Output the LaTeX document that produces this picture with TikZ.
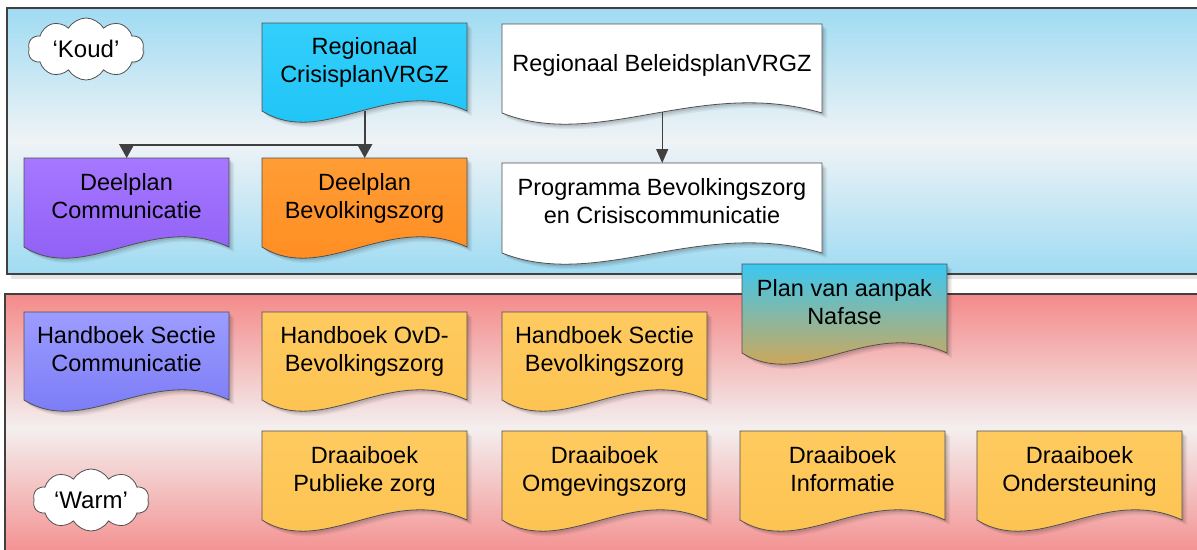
\documentclass[tikz,border=0pt]{standalone}
\usepackage{fontspec}
\setmainfont{Liberation Sans}
\usetikzlibrary{arrows.meta,calc,shapes.symbols}
\definecolor{edge}{HTML}{505050}
\definecolor{arrowc}{HTML}{404040}
\definecolor{skyA}{HTML}{9FDBF2}
\definecolor{skyM}{HTML}{EFF3F6}
\definecolor{roseA}{HTML}{F48A8A}
\definecolor{roseM}{HTML}{F4EFEF}
\definecolor{cyanT}{HTML}{33CFFC}
\definecolor{cyanB}{HTML}{1BC2F5}
\definecolor{purT}{HTML}{A677FF}
\definecolor{purB}{HTML}{8B5BF3}
\definecolor{oraT}{HTML}{FF9D35}
\definecolor{oraB}{HTML}{FF8A1E}
\definecolor{vioT}{HTML}{9C9CFF}
\definecolor{vioB}{HTML}{7474F4}
\definecolor{yelT}{HTML}{FECA5F}
\definecolor{yelB}{HTML}{FDC24F}
\definecolor{planT}{HTML}{3AC8F2}
\definecolor{planB}{HTML}{F59E32}
\tikzset{
  body/.style={draw=none, inner sep=0pt, rectangle, anchor=north west},
  docline/.style={draw=edge, line width=0.8pt},
  doctext/.style={align=center, inner sep=0pt, font=\fontsize{23.5}{28}\selectfont, text=black},
  fcyan/.style={top color=cyanT, bottom color=cyanB},
  fpur/.style={top color=purT, bottom color=purB},
  fora/.style={top color=oraT, bottom color=oraB},
  fvio/.style={top color=vioT, bottom color=vioB},
  fyel/.style={top color=yelT, bottom color=yelB},
  fplan/.style={top color=planT, bottom color=planB},
  fwhite/.style={fill=white},
  panelline/.style={draw=arrowc, line width=1.2pt},
  skypanel/.style={top color=skyA, bottom color=skyA, middle color=skyM},
  rosepanel/.style={top color=roseA, bottom color=roseA, middle color=roseM},
  cloudbox/.style={cloud, cloud puffs=10, cloud puff arc=120, cloud ignores aspect,
    minimum width=116pt, minimum height=62pt, inner sep=0pt, draw=edge, line width=0.8pt,
    fill=white, font=\fontsize{24}{28}\selectfont},
  arrbold/.style={draw=arrowc, line width=2pt, -{Triangle[width=15pt,length=14pt]}},
  arrthin/.style={draw=arrowc, line width=1.3pt, -{Triangle[width=12pt,length=14pt]}},
}
% document-shape outline: L, T, W, H (corner height)
\newcommand\docpath[4]{(#1,#2) -- (#1,{#2+#4}) .. controls ({#1+0.3*#3},{#2+#4+38}) and ({#1+0.62*#3},{#2+#4-36}) .. ({#1+#3},{#2+#4}) -- ({#1+#3},#2) -- cycle}
% name, L, T, W, H, fill style, text
\newcommand\mydoc[7]{%
  \foreach \o/\op in {5/0.05,3.5/0.07,2/0.09}{\fill[black, opacity=\op, shift={(\o,\o)}] \docpath{#2}{#3}{#4}{#5};}
  \path[#6, docline] \docpath{#2}{#3}{#4}{#5};
  \node[body, minimum width=#4pt, minimum height=#5pt] (#1) at (#2,#3) {};
  \node[doctext] (#1-t) at ({#2+#4/2},{#3+#5/2-2.5}) {#7\strut};
}
\begin{document}
\begin{tikzpicture}[x=1pt, y=-1pt]
\path[use as bounding box] (0,0) rectangle (1197,549);
\clip (0,0) rectangle (1197,549);
\fill[white] (0,0) rectangle (1197,549);
% panels
\fill[black, opacity=0.10] (11,12) rectangle (1210,279);
\path[panelline, skypanel] (7,8) rectangle (1210,274);
\path[panelline, rosepanel] (5,294) rectangle (1210,562);
% clouds
\fill[black, opacity=0.08] (89,52) ellipse (56pt and 20pt);
\node[cloudbox] (koud) at (86,49) {‘Koud’};
\fill[black, opacity=0.08] (94,503) ellipse (56pt and 20pt);
\node[cloudbox] (warm) at (91,500) {‘Warm’};
% documents
\mydoc{crisis}{262}{23}{205}{88}{fcyan}{Regionaal\\CrisisplanVRGZ}
\mydoc{beleid}{502}{24}{320}{89}{fwhite}{Regionaal BeleidsplanVRGZ}
\mydoc{dcomm}{24}{158}{205}{89}{fpur}{Deelplan\\Communicatie}
\mydoc{dbev}{262}{158}{205}{89}{fora}{Deelplan\\Bevolkingszorg}
\mydoc{prog}{502}{163}{320}{90}{fwhite}{Programma Bevolkingszorg\\en Crisiscommunicatie}
\mydoc{plan}{742}{264}{205}{89}{fplan}{Plan van aanpak\\Nafase}
\mydoc{hcomm}{24}{312}{205}{88}{fvio}{Handboek Sectie\\Communicatie}
\mydoc{hovd}{262}{312}{205}{88}{fyel}{Handboek OvD-\\Bevolkingszorg}
\mydoc{hbev}{502}{312}{205}{88}{fyel}{Handboek Sectie\\Bevolkingszorg}
\mydoc{dpub}{262}{431}{205}{89}{fyel}{Draaiboek\\Publieke zorg}
\mydoc{domg}{502}{431}{205}{89}{fyel}{Draaiboek\\Omgevingszorg}
\mydoc{dinf}{740}{431}{205}{89}{fyel}{Draaiboek\\Informatie}
\mydoc{dond}{977}{431}{205}{89}{fyel}{Draaiboek\\Ondersteuning}
% connectors
\coordinate (split) at (364.5,145);
\draw[arrbold] (crisis.south) -- (dbev.north);
\draw[arrbold] (split) -| (dcomm.north);
\draw[arrthin] ([yshift=1pt]beleid.south) -- (prog.north);
\end{tikzpicture}
\end{document}
